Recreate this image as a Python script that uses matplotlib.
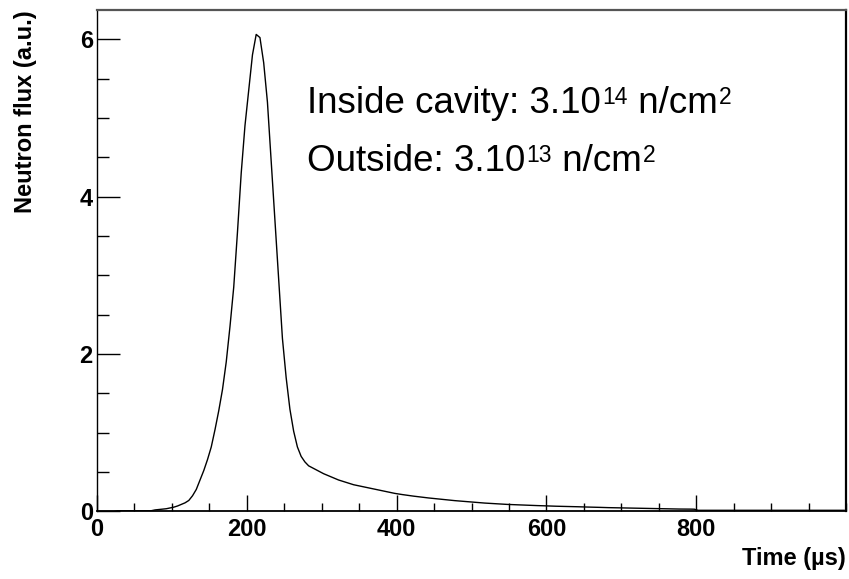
import numpy as np
import matplotlib
matplotlib.use("Agg")
import matplotlib.pyplot as plt
from matplotlib.ticker import MultipleLocator

# neutron flux read at the middle of each 5 us step, 0 -> 1000 us
flux = [
    0, 0, 0, 0, 0, 0.01, 0.01, 0.01, 0.01, 0.01,
    0.01, 0.01, 0.01, 0.01, 0.01, 0.02, 0.025, 0.03, 0.035, 0.045,
    0.055, 0.07, 0.09, 0.11, 0.14, 0.2, 0.28, 0.4, 0.52, 0.66,
    0.82, 1.04, 1.28, 1.55, 1.9, 2.35, 2.85, 3.55, 4.3, 4.9,
    5.35, 5.8, 6.06, 6.02, 5.7, 5.2, 4.45, 3.7, 2.95, 2.2,
    1.7, 1.3, 1.02, 0.82, 0.7, 0.63, 0.58, 0.555, 0.53, 0.505,
    0.48, 0.46, 0.44, 0.42, 0.40, 0.385, 0.37, 0.355, 0.34, 0.33,
    0.32, 0.31, 0.30, 0.29, 0.28, 0.27, 0.26, 0.25, 0.24, 0.23,
    0.222, 0.215, 0.208, 0.201, 0.195, 0.189, 0.183, 0.177, 0.172, 0.167,
    0.162, 0.157, 0.152, 0.147, 0.142, 0.138, 0.134, 0.13, 0.126, 0.122,
    0.118, 0.114, 0.11, 0.107, 0.104, 0.101, 0.098, 0.095, 0.092, 0.09,
    0.088, 0.086, 0.084, 0.082, 0.08, 0.078, 0.076, 0.075, 0.074, 0.072,
    0.07, 0.069, 0.067, 0.066, 0.065, 0.063, 0.062, 0.061, 0.06, 0.058,
    0.057, 0.056, 0.054, 0.053, 0.052, 0.05, 0.049, 0.048, 0.047, 0.046,
    0.045, 0.043, 0.042, 0.041, 0.04, 0.039, 0.038, 0.037, 0.036, 0.035,
    0.035, 0.034, 0.033, 0.033, 0.032, 0.031, 0.031, 0.03, 0.03, 0.029,
    0.015, 0.015, 0.015, 0.015, 0.015, 0.015, 0.015, 0.015, 0.015, 0.015,
    0.015, 0.015, 0.015, 0.015, 0.015, 0.015, 0.015, 0.015, 0.015, 0.015,
    0.015, 0.015, 0.015, 0.015, 0.015, 0.015, 0.015, 0.015, 0.015, 0.015,
    0.015, 0.015, 0.015, 0.015, 0.015, 0.015, 0.015, 0.015, 0.015, 0.015,
]
t_min, t_max = 0, 1000
x_ticks = [0, 200, 400, 600, 800]
x_label = "Time (\u00b5s)"
y_label = "Neutron flux (a.u.)"
# (text, superscript) pieces for each note line
notes = [
    [("Inside cavity: 3.10", "14"), (" n/cm", "2")],
    [("Outside: 3.10", "13"), (" n/cm", "2")],
]

plt.rcParams["font.family"] = ["Liberation Sans", "DejaVu Sans"]

fig = plt.figure(figsize=(8.49, 5.79), dpi=100)
ax = fig.add_axes([0.1143, 0.1166, 0.8822, 0.8661])

edges = np.linspace(t_min, t_max, len(flux) + 1)
centers = (edges[:-1] + edges[1:]) / 2
ax.plot(centers, flux, color="black", lw=1.0)

ax.set_xlim(t_min, t_max)
ax.set_ylim(0, 6.37)

ax.set_xticks(x_ticks)
ax.xaxis.set_minor_locator(MultipleLocator(50))
ax.yaxis.set_major_locator(MultipleLocator(2))
ax.yaxis.set_minor_locator(MultipleLocator(0.5))

ax.tick_params(axis="x", which="major", direction="in", length=11.5, width=1, pad=5,
               labelsize=17)
ax.tick_params(axis="x", which="minor", direction="in", length=5.8, width=1)
ax.tick_params(axis="y", which="major", direction="in", length=16.5, width=1, pad=3,
               labelsize=17)
ax.tick_params(axis="y", which="minor", direction="in", length=8.6, width=1)
for lab in ax.get_xticklabels() + ax.get_yticklabels():
    lab.set_fontweight("bold")

ax.spines["left"].set_linewidth(1.0)
ax.spines["bottom"].set_linewidth(1.3)
ax.spines["top"].set_linewidth(1.6)
ax.spines["top"].set_color("#555555")
ax.spines["right"].set_linewidth(1.6)

ax.text(-0.096, 1.0, y_label, transform=ax.transAxes, rotation=90,
        ha="center", va="top", fontsize=17, fontweight="bold")
ax.text(1.0, -0.093, x_label, transform=ax.transAxes,
        ha="right", va="center", fontsize=17, fontweight="bold")

# notes: chain pieces so the small superscripts sit right after their text
for y0, pieces in zip([0.795, 0.679], notes):
    prev = None
    for body, sup in pieces:
        if prev is None:
            prev = ax.text(0.2804, y0, body, transform=ax.transAxes,
                           ha="left", va="baseline", fontsize=26.5)
        else:
            prev = ax.annotate(body, xy=(1, y0), xycoords=(prev, ax.transAxes),
                               xytext=(0, 0), textcoords="offset points",
                               ha="left", va="baseline", fontsize=26.5)
        prev = ax.annotate(sup, xy=(1, y0), xycoords=(prev, ax.transAxes),
                           xytext=(1, 6.5), textcoords="offset points",
                           ha="left", va="baseline", fontsize=16.5)

fig.savefig("out.png", dpi=100)
